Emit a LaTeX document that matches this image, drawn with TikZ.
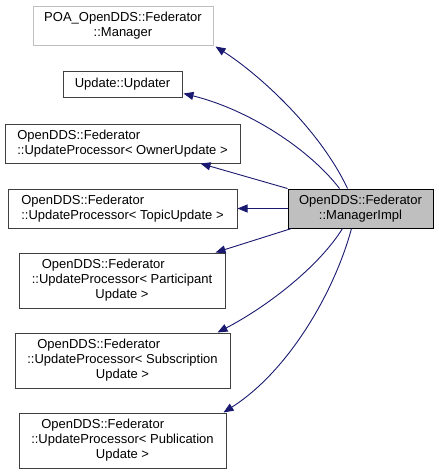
\documentclass[tikz,border=0pt]{standalone}
\usepackage{fontspec}
\setmainfont{Liberation Sans}
\usetikzlibrary{arrows.meta,calc}
\definecolor{edgeblue}{HTML}{191970}
\definecolor{boxgray}{HTML}{BFBFBF}
\definecolor{boxline}{HTML}{404040}
\begin{document}
\begin{tikzpicture}[x=1pt,y=-1pt,
  box/.style={draw=boxline,line width=1pt,fill=white,inner sep=0pt,
    font=\fontsize{13pt}{15pt}\selectfont},
  greybox/.style={box,draw=boxgray},
  mainbox/.style={box,draw=black,fill=boxgray},
  edge/.style={draw=edgeblue,line width=0.9pt,{Triangle[length=10pt,width=8pt]}-}]
\useasboundingbox (0,0) rectangle (439,474);

\node[greybox,minimum width=180pt,minimum height=39pt] (poa) at (123,25.5)
  {\begin{tabular}{@{}c@{}}POA\_OpenDDS::Federator\\::Manager\end{tabular}};
\node[box,minimum width=119pt,minimum height=26pt] (upd) at (122.5,84)
  {Update::Updater};
\node[box,minimum width=235pt,minimum height=39pt] (own) at (122.5,143.5)
  {\begin{tabular}{@{}l@{}}OpenDDS::Federator\\::UpdateProcessor< OwnerUpdate >\end{tabular}};
\node[box,minimum width=229pt,minimum height=39pt] (top) at (122.5,208.5)
  {\begin{tabular}{@{}l@{}}OpenDDS::Federator\\::UpdateProcessor< TopicUpdate >\end{tabular}};
\node[box,minimum width=206pt,minimum height=55pt] (par) at (122,280.5)
  {\begin{tabular}{@{}l@{}}\hspace{10pt}OpenDDS::Federator\\::UpdateProcessor< Participant\\\multicolumn{1}{@{}c@{}}{Update >}\end{tabular}};
\node[box,minimum width=215pt,minimum height=55pt] (sub) at (122.5,360.5)
  {\begin{tabular}{@{}l@{}}\hspace{10pt}OpenDDS::Federator\\::UpdateProcessor< Subscription\\\multicolumn{1}{@{}c@{}}{Update >}\end{tabular}};
\node[box,minimum width=207pt,minimum height=55pt] (pub) at (122.5,440.5)
  {\begin{tabular}{@{}l@{}}\hspace{10pt}OpenDDS::Federator\\::UpdateProcessor< Publication\\\multicolumn{1}{@{}c@{}}{Update >}\end{tabular}};
\node[mainbox,minimum width=145pt,minimum height=39pt] (mi) at (360.5,208.5)
  {\begin{tabular}{@{}c@{}}OpenDDS::Federator\\::ManagerImpl\end{tabular}};

\draw[edge] ($(poa.south east)+(2,1)$) .. controls (260,75) and (320,130) .. ($(mi.north west)+(60,0)$);
\draw[edge] ($(upd.south east)+(1,-4)$) .. controls (250,110) and (310,150) .. ($(mi.north west)+(52,0)$);
\draw[edge] ($(own.south east)+(-40,0)$) -- (mi.north west);
\draw[edge] (top.east) -- (mi.west);
\draw[edge] ($(par.north east)+(-10,0)$) -- ($(mi.south west)+(4,0)$);
\draw[edge] ($(sub.north east)+(-13,0)$) .. controls (270,305) and (320,265) .. ($(mi.south west)+(55,0)$);
\draw[edge] ($(pub.north east)+(-3,0)$) .. controls (290,370) and (335,290) .. ($(mi.south west)+(64,0)$);
\end{tikzpicture}
\end{document}
